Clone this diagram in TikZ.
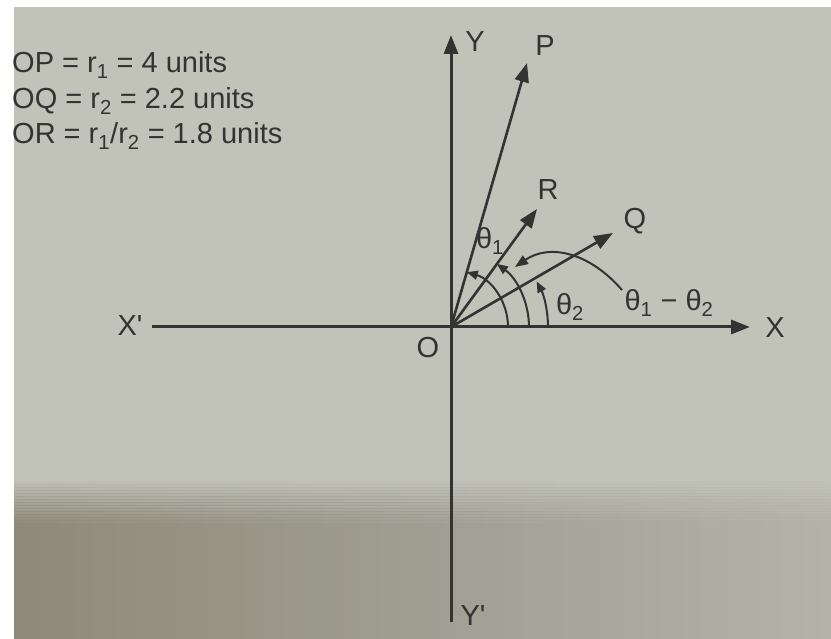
\documentclass[tikz,border=0pt]{standalone}
\usepackage{fontspec}
\setmainfont{Liberation Sans}
\usetikzlibrary{arrows.meta}
\definecolor{paper}{HTML}{C1C2B8}
\definecolor{shadowA}{HTML}{8E8A7B}
\definecolor{shadowB}{HTML}{B3B3A9}
\definecolor{ink}{HTML}{333331}
\begin{document}
\begin{tikzpicture}[x=1pt,y=1pt,
  lab/.style={font=\fontsize{29}{33}\selectfont, text=ink, inner sep=0pt},
  axisline/.style={draw=ink, line width=3pt},
  axisarrow/.style={axisline, -{Triangle[length=19pt,width=14pt]}},
  vec/.style={draw=ink, line width=2.6pt, -{Triangle[length=19pt,width=14pt]}},
  arcl/.style={draw=ink, line width=2pt, -{Triangle[length=11pt,width=9pt]}},
  leader/.style={draw=ink, line width=2pt, -{Triangle[length=13pt,width=10pt]}},
  shadowband/.style={left color=shadowA, right color=shadowB},
]
\useasboundingbox (0,0) rectangle (831,638);
% paper background
\fill[white] (0,0) rectangle (831,638);
\fill[paper] (14,0) rectangle (831,631);
\shade[shadowband] (14,0) rectangle (831,114.5);
\foreach \i in {1,...,14} {
  \pgfmathsetmacro\op{\i/15}
  \shade[shadowband, fill opacity=\op] (14,{156-3*\i}) rectangle (831,{159.4-3*\i});
}

% key points
\coordinate (O) at (451,311);
\coordinate (Xs) at (152,311);
\coordinate (Xe) at (750,311);
\coordinate (Ys) at (451,16);
\coordinate (Ye) at (451,603);
\coordinate (Pt) at (527,575);
\coordinate (Rt) at (537,429);
\coordinate (Qt) at (613,405);
\coordinate (Ls) at (622,348);
\coordinate (Lc1) at (590,385);
\coordinate (Lc2) at (550,395);
\coordinate (Le) at (515,371);

% axes
\draw[axisarrow] (Xs) -- (Xe);
\draw[axisarrow] (Ys) -- (Ye);

% vectors
\draw[vec] (O) -- (Pt);
\draw[vec] (O) -- (Rt);
\draw[vec] (O) -- (Qt);

% angle arcs
\draw[arcl] ([xshift=57pt]O) arc[start angle=0,end angle=74,radius=57];
\draw[arcl] ([xshift=78pt]O) arc[start angle=0,end angle=54,radius=78];
\draw[arcl] ([xshift=97pt]O) arc[start angle=0,end angle=28,radius=97];

% leader for theta1 - theta2
\draw[leader] (Ls) .. controls (Lc1) and (Lc2) .. (Le);

% labels
\node[lab] (Ylab) at (475,596) {Y};
\node[lab] (Plab) at (545,592) {P};
\node[lab] (Rlab) at (548,448) {R};
\node[lab] (Qlab) at (635,417) {Q};
\node[lab] (t1) at (490,397) {θ\textsubscript{1}};
\node[lab] (t2) at (570,331) {θ\textsubscript{2}};
\node[lab] (t12) at (669,335) {θ\textsubscript{1} − θ\textsubscript{2}};
\node[lab] (Xlab) at (775,310) {X};
\node[lab] (X1lab) at (130,312) {X\textquotesingle};
\node[lab] (Olab) at (428,290) {O};
\node[lab] (Y1lab) at (473,22) {Y\textquotesingle};

% key text
\node[lab, anchor=base west] (l1) at (12,565) {OP = r\textsubscript{1} = 4 units};
\node[lab, anchor=base west] (l2) at (12,529) {OQ = r\textsubscript{2} = 2.2 units};
\node[lab, anchor=base west] (l3) at (12,494) {OR = r\textsubscript{1}/r\textsubscript{2} = 1.8 units};
\end{tikzpicture}
\end{document}
